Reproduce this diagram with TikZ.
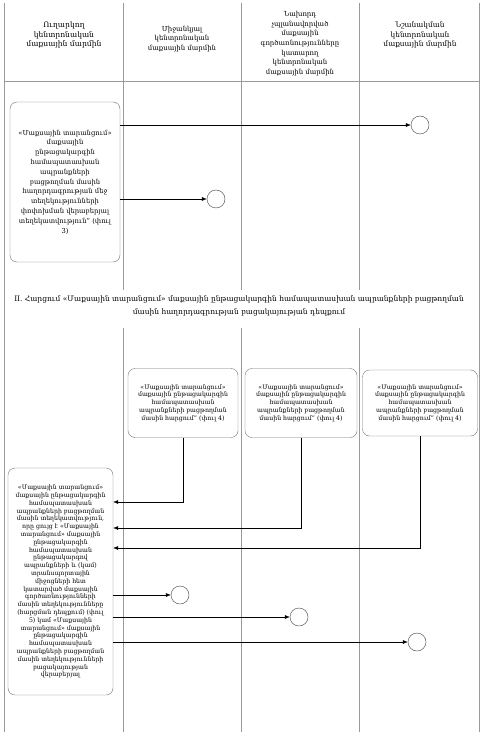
\documentclass[tikz,border=0pt]{standalone}
\usepackage{fontspec}
\setmainfont{DejaVu Serif}
\usetikzlibrary{arrows.meta,positioning}

\newcommand{\reqtext}{«Մաքսային տարանցում»\\մաքսային ընթացակարգին\\համապատասխան\\ապրանքների բացթողման\\մասին հարցում” (փուլ 4)}

\begin{document}
\begin{tikzpicture}[
    x=1pt, y=-1pt,
    lane/.style={draw=black!40, line width=0.6pt},
    head/.style={align=center, font=\fontsize{6.9}{9.7}\selectfont},
    msgbox/.style={draw=black!55, rounded corners=7pt, align=center, inner sep=2pt, font=\fontsize{6.2}{7.8}\selectfont},
    endevt/.style={circle, draw=black!75, minimum size=18pt, inner sep=0pt},
    flow/.style={-{Latex[length=5pt,width=4pt]}, line width=0.5pt}
]
    \useasboundingbox (0,0) rectangle (482,735);

    % lanes
    \draw[lane] (4,3) -- (4,732);
    \draw[lane] (479,3) -- (479,732);
    \foreach \lx in {123,241,359} {
        \draw[lane] (\lx,3) -- (\lx,290);
        \draw[lane] (\lx,328) -- (\lx,732);
    }
    \draw[lane] (4,81) -- (479,81);

    % header
    \node[head, font=\fontsize{7.6}{9.6}\selectfont] (hsend) at (64,35) {Ուղարկող\\կենտրոնական\\մաքսային մարմին};
    \node[head] (hmid) at (182,39) {Միջանկյալ\\կենտրոնական\\մաքսային մարմին};
    \node[head] (hprev) at (300,43.5) {Նախորդ\\չպլանավորված\\մաքսային\\գործառնությունները\\կատարող\\կենտրոնական\\մաքսային մարմին};
    \node[head, font=\fontsize{7.4}{9.6}\selectfont] (hdest) at (420,35) {Նշանակման\\կենտրոնական\\մաքսային մարմին};

    % part I
    \node[msgbox, minimum width=110pt, minimum height=160pt, font=\fontsize{6.8}{9.8}\selectfont] (change) at (65,182)
        {«Մաքսային տարանցում»\\մաքսային\\ընթացակարգին\\համապատասխան\\ապրանքների\\բացթողման մասին\\հաղորդագրության մեջ\\տեղեկությունների\\փոփոխման վերաբերյալ\\տեղեկատվություն” (փուլ\\3)};
    \node[endevt] (end1) at (420,125) {};
    \node[endevt] (end2) at (216,199) {};
    \draw[flow] (change.east |- end1) -- (end1);
    \draw[flow] (change.east |- end2) -- (end2);

    % part II
    \node[head, font=\fontsize{7.5}{12.5}\selectfont] (title2) at (239,306)
        {II. Հարցում «Մաքսային տարանցում» մաքսային ընթացակարգին համապատասխան ապրանքների բացթողման\\մասին հաղորդագրության բացակայության դեպքում};

    \node[msgbox, minimum width=110pt, minimum height=69pt] (reqmid) at (183,403) {\reqtext};
    \node[msgbox, minimum width=112pt, minimum height=69pt] (reqprev) at (301,403) {\reqtext};
    \node[msgbox, minimum width=115pt, minimum height=66pt] (reqdest) at (420,403) {\reqtext};

    \node[msgbox, minimum width=105pt, minimum height=227pt] (answer) at (60.5,581.5)
        {«Մաքսային տարանցում»\\մաքսային ընթացակարգին\\համապատասխան\\ապրանքների բացթողման\\մասին տեղեկատվություն,\\որը ցույց է «Մաքսային\\տարանցում» մաքսային\\ընթացակարգին\\համապատասխան\\ընթացակարգով\\ապրանքների և (կամ)\\տրանսպորտային\\միջոցների հետ\\կատարված մաքսային\\գործառնությունների\\մասին տեղեկությունները\\(հարցման դեպքում) (փուլ\\5) կամ «Մաքսային\\տարանցում» մաքսային\\ընթացակարգին\\համապատասխան\\ապրանքների բացթողման\\մասին տեղեկությունների\\բացակայության\\վերաբերյալ};

    \coordinate (lvlmid) at (0,502);
    \coordinate (lvlprev) at (0,528);
    \coordinate (lvldest) at (0,548);
    \draw[flow] (reqmid.south) |- (answer.east |- lvlmid);
    \draw[flow] (reqprev.south) |- (answer.east |- lvlprev);
    \draw[flow] (reqdest.south) |- (answer.east |- lvldest);

    \node[endevt] (end3) at (180,595) {};
    \node[endevt] (end4) at (299,617) {};
    \node[endevt] (end5) at (417,642) {};
    \draw[flow] (answer.east |- end3) -- (end3);
    \draw[flow] (answer.east |- end4) -- (end4);
    \draw[flow] (answer.east |- end5) -- (end5);
\end{tikzpicture}
\end{document}
